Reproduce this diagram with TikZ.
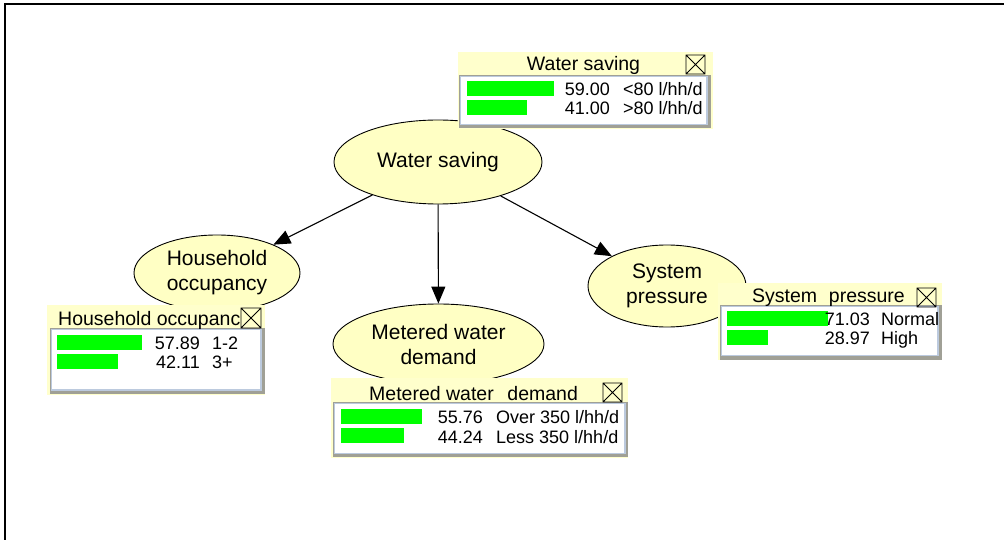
\documentclass[tikz,border=0pt]{standalone}
\usepackage{fontspec}
\setmainfont{Liberation Sans}
\usetikzlibrary{shapes.geometric,arrows.meta}
\definecolor{ellfill}{RGB}{255,255,196}
\definecolor{boxfill}{RGB}{255,255,204}
\definecolor{bargreen}{RGB}{0,255,0}
\definecolor{panelborder}{RGB}{188,202,222}
\definecolor{shadowgray}{RGB}{160,160,150}
\begin{document}
\begin{tikzpicture}[x=1pt,y=-1pt,
  ell/.style={ellipse, draw=black, line width=0.9pt, fill=ellfill, inner sep=0pt,
    align=center, font=\fontsize{21}{25}\selectfont},
  arr/.style={line width=1.1pt, -{Triangle[length=17pt,width=14pt]}},
  boxbg/.style={fill=boxfill},
  shade/.style={fill=shadowgray},
  panel/.style={fill=white, draw=panelborder, line width=1.6pt},
  bar/.style={fill=bargreen},
  xbox/.style={draw=black, line width=0.8pt},
  ttl/.style={inner sep=0pt, font=\fontsize{19.5}{22}\selectfont},
  val/.style={inner sep=0pt, anchor=base east, font=\fontsize{18}{20}\selectfont},
  lab/.style={inner sep=0pt, anchor=base west, font=\fontsize{18}{20}\selectfont}
]
\useasboundingbox (0,0) rectangle (1004,540);
% frame
\draw[line width=2pt] (1004,4.5) -- (4.5,4.5) -- (4.5,540);

% ellipses
\node[ell, minimum width=208pt, minimum height=84pt] (ws) at (438,162) {Water saving};
\node[ell, minimum width=166pt, minimum height=76pt] (ho) at (217,273) {Household\\occupancy};
\node[ell, minimum width=211pt, minimum height=80pt] (mw) at (438.5,344) {Metered water\\demand};
\node[ell, minimum width=158pt, minimum height=82pt] (sp) at (667,286) {System\\pressure};

% arrows
\draw[arr] (ws) -- (ho);
\draw[arr] (ws) -- (mw);
\draw[arr] (ws) -- (sp);

% ---- Water saving box
\fill[boxbg] (458,52) rectangle (713,129);
\fill[shade] (459,75) rectangle (711,128);
\draw[panel] (460.5,76.5) rectangle (707,124.5);
\draw[xbox] (686,55) rectangle (705,74) (686,55) -- (705,74) (686,74) -- (705,55);
\node[ttl, anchor=base] (wst) at (583.5,71) {Water saving};
\fill[bar] (467,81) rectangle +(87,15);
\fill[bar] (467,100) rectangle +(60,15);
\node[val] (wsv1) at (610,96) {59.00};
\node[lab] (wsl1) at (623,96) {<80 l/hh/d};
\node[val] (wsv2) at (610,115) {41.00};
\node[lab] (wsl2) at (623,115) {>80 l/hh/d};

% ---- Household box
\fill[boxbg] (47,305) rectangle (265,395);
\fill[shade] (50,328) rectangle (265,394);
\draw[panel] (51.5,329.5) rectangle (261,390);
\node[ttl, anchor=base west] (hot) at (58,325) {Household occupanc};
\fill[boxbg] (240,307) rectangle (262,328);
\draw[xbox] (241,308) rectangle (261,328) (241,308) -- (261,328) (241,328) -- (261,308);
\fill[bar] (57,335) rectangle +(85,15);
\fill[bar] (57,354) rectangle +(61,15);
\node[val] (hov1) at (200,349) {57.89};
\node[lab] (hol1) at (212,349) {1-2};
\node[val] (hov2) at (200,368) {42.11};
\node[lab] (hol2) at (212,368) {3+};

% ---- Metered water demand box
\fill[boxbg] (331,378) rectangle (628,458);
\fill[shade] (333,402) rectangle (628,457);
\draw[panel] (334.5,403.5) rectangle (625,453.5);
\node[ttl, anchor=base west] (mwt) at (369,400) {Metered water\hspace{0.7em}demand};
\draw[xbox] (603,383) rectangle (622,402) (603,383) -- (622,402) (603,402) -- (622,383);
\fill[bar] (341,409) rectangle +(81,15);
\fill[bar] (341,428) rectangle +(63,15);
\node[val] (mwv1) at (483,423) {55.76};
\node[lab] (mwl1) at (496,423) {Over 350 l/hh/d};
\node[val] (mwv2) at (483,443) {44.24};
\node[lab] (mwl2) at (496,443) {Less 350 l/hh/d};

% ---- System pressure box
\fill[boxbg] (718,283) rectangle (942,360);
\fill[shade] (720,305) rectangle (942,360);
\draw[panel] (721.5,306.5) rectangle (938,355.5);
\node[ttl, anchor=base west] (spt) at (752,302) {System\hspace{0.6em}pressure};
\draw[xbox] (917,288) rectangle (936,307) (917,288) -- (936,307) (917,307) -- (936,288);
\fill[bar] (727,311) rectangle +(101,15);
\fill[bar] (727,330) rectangle +(41,15);
\node[val] (spv1) at (870,325) {71.03};
\node[lab] (spl1) at (881,325) {Normal};
\node[val] (spv2) at (870,344) {28.97};
\node[lab] (spl2) at (881,344) {High};
\end{tikzpicture}
\end{document}
